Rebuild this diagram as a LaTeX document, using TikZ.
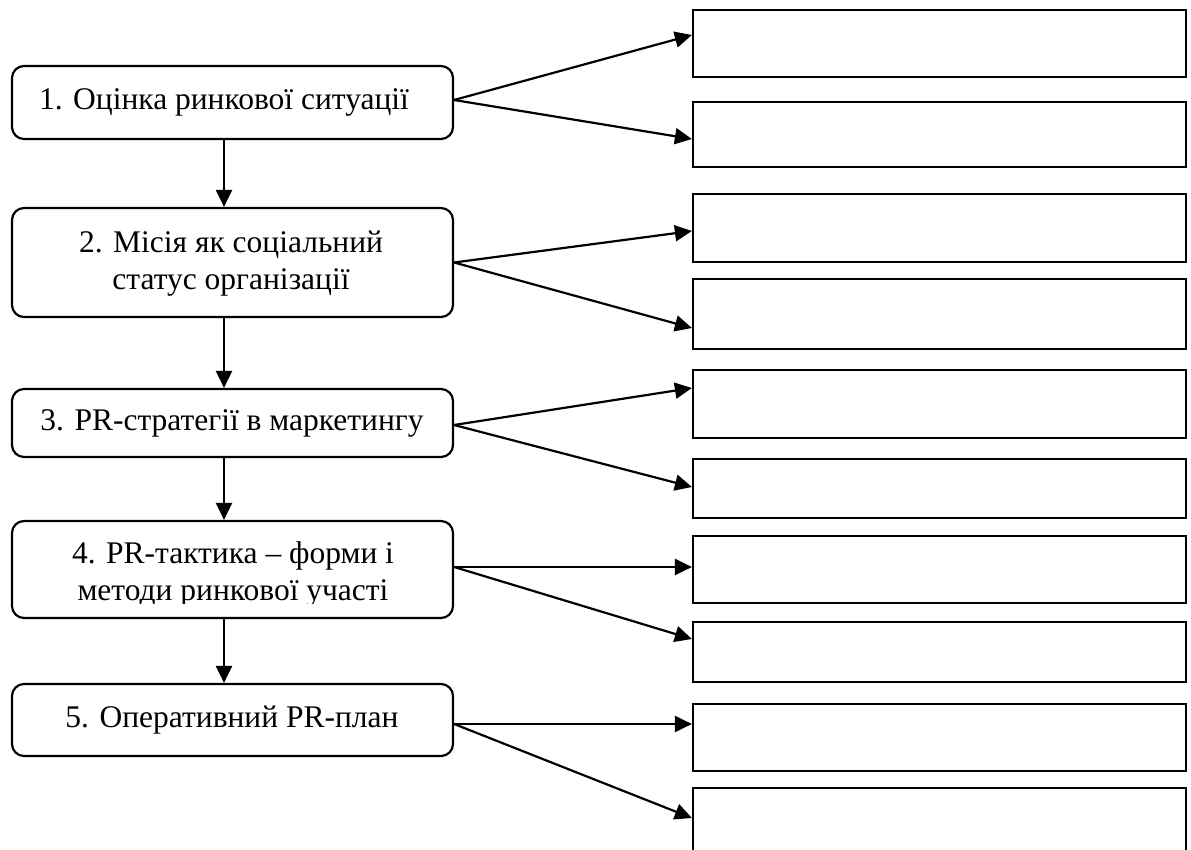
\documentclass[tikz,border=0pt]{standalone}
\usepackage{fontspec}
\setmainfont{Liberation Serif}
\usetikzlibrary{arrows.meta}
\begin{document}
\begin{tikzpicture}[x=1pt,y=-1pt,
  stage/.style={draw, line width=2.2pt, rounded corners=12pt, minimum width=441pt, inner sep=0pt},
  slot/.style={draw, line width=2.2pt, minimum width=493pt, inner sep=0pt},
  stagetext/.style={anchor=base, font=\fontsize{31.5}{37}\selectfont, inner sep=0pt},
  link/.style={line width=2.2pt, -{Triangle[length=17pt,width=16pt]}}]
\clip (0,0) rectangle (1191,850);

% stages on the left
\node[stage, minimum height=73pt] (b1) at (232.5,102.5) {};
\node[stage, minimum height=109pt] (b2) at (232.5,262.5) {};
\node[stage, minimum height=68pt] (b3) at (232.5,423) {};
\node[stage, minimum height=97pt] (b4) at (232.5,569.5) {};
\node[stage, minimum height=72pt] (b5) at (232.5,720) {};

% empty boxes on the right
\node[slot, minimum height=67pt] (r1) at (939.5,43.5) {};
\node[slot, minimum height=65pt] (r2) at (939.5,134.5) {};
\node[slot, minimum height=68pt] (r3) at (939.5,228) {};
\node[slot, minimum height=70pt] (r4) at (939.5,314) {};
\node[slot, minimum height=68pt] (r5) at (939.5,404) {};
\node[slot, minimum height=59pt] (r6) at (939.5,488.5) {};
\node[slot, minimum height=67pt] (r7) at (939.5,569.5) {};
\node[slot, minimum height=60pt] (r8) at (939.5,652) {};
\node[slot, minimum height=67pt] (r9) at (939.5,737.5) {};
\node[slot, minimum height=68pt] (r10) at (939.5,822) {};

% stage captions
\node[stagetext] (t1) at (224,110) {1. Оцінка ринкової ситуації};
\node[stagetext] (t2a) at (231,253) {2. Місія як соціальний};
\node[stagetext] (t2b) at (231,290) {статус організації};
\node[stagetext] (t3) at (232,430) {3. PR-стратегії в маркетингу};
\node[stagetext] (t4a) at (233,563) {4. PR-тактика – форми і};
\begin{scope}
  \clip (11,520) rectangle (454,603);
  \node[stagetext] (t4b) at (233,600) {методи ринкової участі};
\end{scope}
\node[stagetext] (t5) at (232,727) {5. Оперативний PR-план};

% sequence of stages
\draw[link] ([xshift=-8.5pt]b1.south) -- ([xshift=-8.5pt]b2.north);
\draw[link] ([xshift=-8.5pt]b2.south) -- ([xshift=-8.5pt]b3.north);
\draw[link] ([xshift=-8.5pt]b3.south) -- ([xshift=-8.5pt]b4.north);
\draw[link] ([xshift=-8.5pt]b4.south) -- ([xshift=-8.5pt]b5.north);

% branches to the right
\draw[link] ([yshift=2.5pt]b1.east) -- ([yshift=8.5pt]r1.west);
\draw[link] ([yshift=2.5pt]b1.east) -- ([yshift=-4.5pt]r2.west);
\draw[link] (b2.east) -- ([yshift=-3pt]r3.west);
\draw[link] (b2.east) -- ([yshift=-14pt]r4.west);
\draw[link] ([yshift=-2pt]b3.east) -- ([yshift=16pt]r5.west);
\draw[link] ([yshift=-2pt]b3.east) -- ([yshift=1.5pt]r6.west);
\draw[link] ([yshift=2.5pt]b4.east) -- ([yshift=2.5pt]r7.west);
\draw[link] ([yshift=2.5pt]b4.east) -- ([yshift=13pt]r8.west);
\draw[link] ([yshift=-4pt]b5.east) -- ([yshift=13.5pt]r9.west);
\draw[link] ([yshift=-4pt]b5.east) -- ([yshift=4pt]r10.west);
\end{tikzpicture}
\end{document}
